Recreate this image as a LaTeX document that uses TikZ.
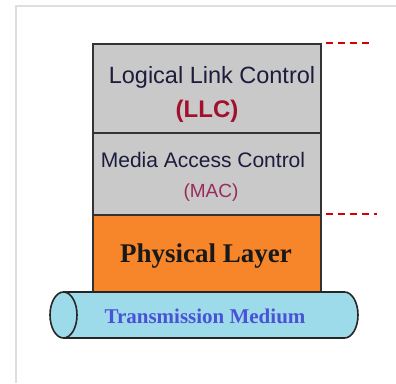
\documentclass[tikz,border=0pt]{standalone}
\usepackage{fontspec}
\setmainfont{Liberation Serif}
\setsansfont{Liberation Sans}
\begin{document}
\begin{tikzpicture}[x=1pt,y=-1pt,
  layerbox/.style={draw=black!80,line width=1.8pt,minimum width=228pt,inner sep=0pt},
  sublayer/.style={layerbox,fill=black!21},
  physbox/.style={layerbox,fill=phys},
  boundary/.style={draw=red!85!black,line width=1.8pt,dash pattern=on 7pt off 5pt},
  label/.style={inner sep=0pt,anchor=base}
]
\definecolor{phys}{HTML}{F7862A}
\definecolor{medium}{HTML}{9DDAEA}
\definecolor{navy}{HTML}{1C1C3C}
\definecolor{llcred}{HTML}{A3102E}
\definecolor{macred}{HTML}{9A2A5A}
\definecolor{medblue}{HTML}{4A52D6}
\useasboundingbox (0,0) rectangle (396,383);
\fill[white] (0,0) rectangle (396,383);
% light frame
\draw[black!13,line width=1.6pt] (16,383) -- (16,6) -- (396,6);

% layer stack
\node[sublayer,minimum height=89pt] (llc) at (207,88.5) {};
\node[sublayer,minimum height=82pt] (mac) at (207,174) {};
\node[physbox,minimum height=77pt] (phy) at (207,253.5) {};

% transmission medium cylinder
\coordinate (cl) at (63.5,315);
\fill[medium] (63.5,292) -- (344.5,292) arc[start angle=90,end angle=-90,x radius=13.5pt,y radius=23pt] -- (63.5,338) arc[start angle=-90,end angle=-270,x radius=13.5pt,y radius=23pt] -- cycle;
\draw[black!85,line width=1.6pt] (63.5,292) -- (344.5,292) arc[start angle=90,end angle=-90,x radius=13.5pt,y radius=23pt] -- (63.5,338);
\draw[black!85,line width=1.6pt,fill=medium] (cl) ellipse[x radius=13.5pt,y radius=23pt];

% texts
\node[label,font=\sffamily\fontsize{23.5}{26}\selectfont,text=navy] (llct) at (212,83) {Logical Link Control};
\node[label,font=\sffamily\bfseries\fontsize{24}{26}\selectfont,text=llcred] (llca) at (207,117) {(LLC)};
\node[label,font=\sffamily\fontsize{21}{24}\selectfont,text=navy] (mact) at (203,167) {Media Access Control};
\node[label,font=\sffamily\fontsize{19}{22}\selectfont,text=macred] (maca) at (211,197) {(MAC)};
\node[label,font=\bfseries\fontsize{27}{30}\selectfont,text=black!90] (phyt) at (206,262) {Physical Layer};
\node[label,font=\bfseries\fontsize{21}{24}\selectfont,text=medblue] (medt) at (205,323) {Transmission Medium};

% sublayer boundaries
\coordinate (d1) at ([xshift=49pt]llc.north east);
\coordinate (d2) at ([xshift=55pt]phy.north east);
\draw[boundary] ([xshift=4pt]llc.north east) -- (d1);
\draw[boundary] ([xshift=4pt]phy.north east) -- (d2);
\end{tikzpicture}
\end{document}
